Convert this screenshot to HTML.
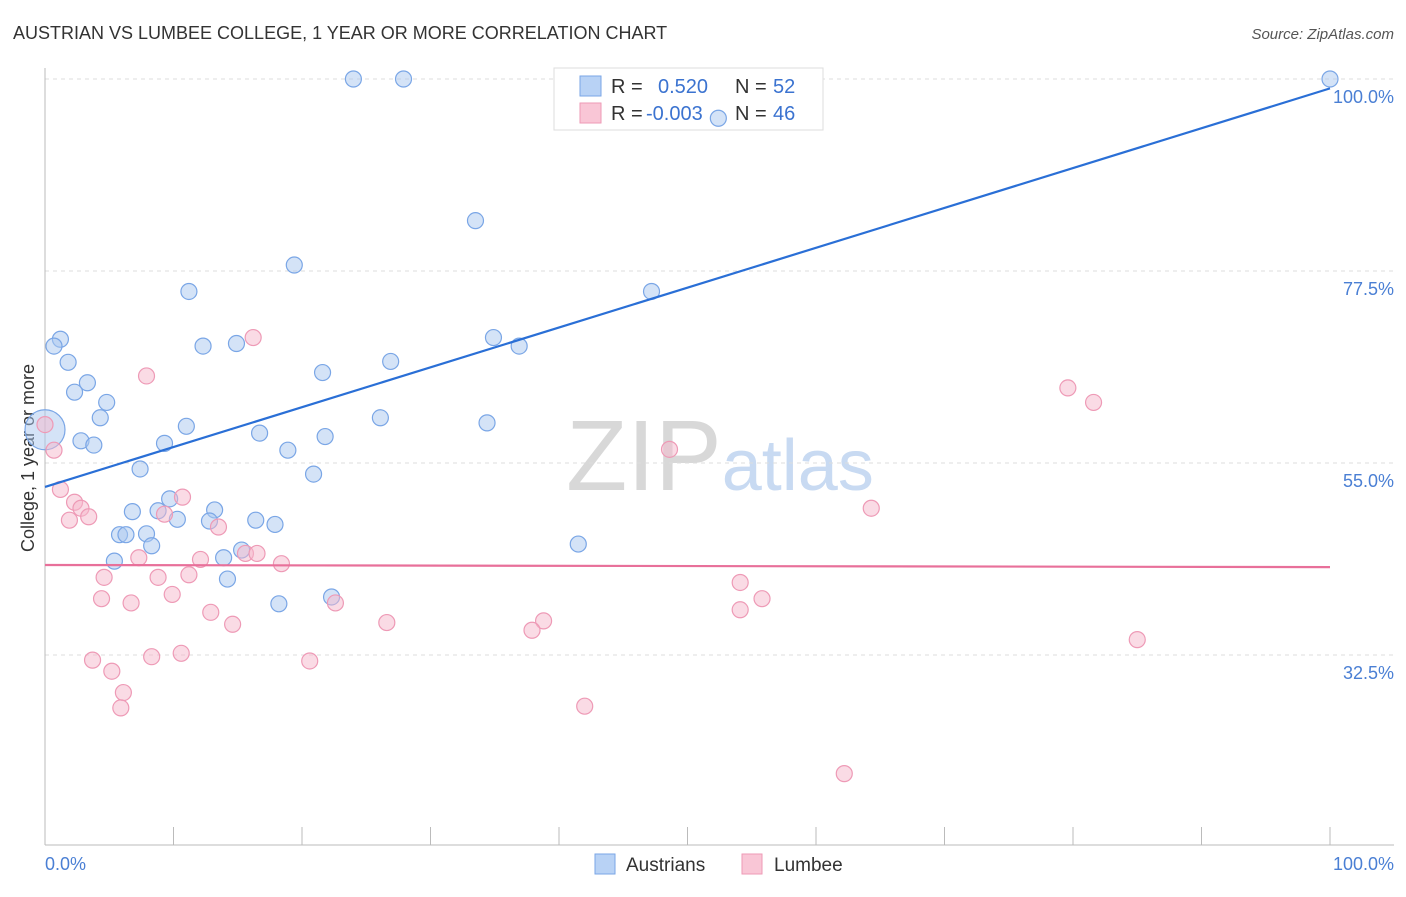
<!DOCTYPE html>
<html><head><meta charset="utf-8"><style>
body{margin:0;background:#fff;font-family:"Liberation Sans",sans-serif;}
svg text{font-family:"Liberation Sans",sans-serif;}
</style></head><body>
<svg id="chart" width="1406" height="892" xmlns="http://www.w3.org/2000/svg">
<text x="13" y="39" font-size="18" fill="#333">AUSTRIAN VS LUMBEE COLLEGE, 1 YEAR OR MORE CORRELATION CHART</text>
<text x="1394" y="39" font-size="15" fill="#555" text-anchor="end" font-style="italic">Source: ZipAtlas.com</text>
<text x="720" y="490" font-size="100" text-anchor="middle" fill="#ddd" font-family="Liberation Serif"><tspan fill="#d8d8d8">ZIP</tspan><tspan fill="#c8daf2" font-family="Liberation Sans" font-size="72">atlas</tspan></text>
<g id="grid"></g>
<g id="axes"></g>
<text transform="translate(34,458) rotate(-90)" font-size="18" fill="#333" text-anchor="middle">College, 1 year or more</text>
<text x="45" y="870" font-size="18" fill="#4a7fd4">0.0%</text>
<text x="1394" y="870" font-size="18" fill="#4a7fd4" text-anchor="end">100.0%</text>
<g>
<rect x="554" y="68" width="269" height="62" fill="#fff" stroke="#ddd"/>
<rect x="580" y="76" width="21" height="20" fill="#b8d2f5" stroke="#7aa6e6"/>
<rect x="580" y="103" width="21" height="20" fill="#f9c6d6" stroke="#ee9ab6"/>
<text x="611" y="93" font-size="20" fill="#333">R =</text>
<text x="658" y="93" font-size="20" fill="#3b73d0">0.520</text>
<text x="735" y="93" font-size="20" fill="#333">N =</text>
<text x="773" y="93" font-size="20" fill="#3b73d0">52</text>
<text x="611" y="120" font-size="20" fill="#333">R =</text>
<text x="646" y="120" font-size="20" fill="#3b73d0">-0.003</text>
<text x="735" y="120" font-size="20" fill="#333">N =</text>
<text x="773" y="120" font-size="20" fill="#3b73d0">46</text>
</g>
<g>
<rect x="595" y="854" width="20" height="20" fill="#b8d2f5" stroke="#7aa6e6"/>
<text x="626" y="871" font-size="19" fill="#333">Austrians</text>
<rect x="742" y="854" width="20" height="20" fill="#f9c6d6" stroke="#ee9ab6"/>
<text x="774" y="871" font-size="19" fill="#333">Lumbee</text>
</g>
<g id="pts"></g>
<g id="lines"></g>
</svg>
<script>
const yTicks=[32.5,55.0,77.5,100.0];
const xTickVals=[0,10,20,30,40,50,60,70,80,90,100];
const blueX=[24.0,27.9,100,52.4,33.5,19.4,11.2,47.2,1.2,0.7,12.3,14.9,34.9,36.9,1.8,26.9,21.6,3.3,2.3,4.8,4.3,26.1,34.4,11.0,0,2.8,3.8,9.3,16.7,21.8,18.9,7.4,20.9,9.7,13.2,6.8,8.8,10.3,12.8,16.4,17.9,5.8,6.3,7.9,8.3,15.3,13.9,5.4,41.5,14.2,18.2,22.3];
const blueY=[100,100,100,95.4,83.4,78.2,75.1,75.1,69.5,68.7,68.7,69.0,69.7,68.7,66.8,66.9,65.6,64.4,63.3,62.1,60.3,60.3,59.7,59.3,58.9,57.6,57.1,57.3,58.5,58.1,56.5,54.3,53.7,50.8,49.5,49.3,49.4,48.4,48.2,48.3,47.8,46.6,46.6,46.7,45.3,44.8,43.9,43.5,45.5,41.4,38.5,39.3];
const pinkX=[0,0.7,16.2,7.9,79.6,81.6,48.6,1.2,2.3,10.7,2.8,3.4,1.9,9.3,13.5,64.3,7.3,12.1,15.6,16.5,18.4,4.6,8.8,11.2,54.1,4.4,6.7,9.9,55.8,22.6,12.9,54.1,14.6,26.6,38.8,37.9,85.0,3.7,8.3,10.6,20.6,5.2,6.1,5.9,42.0,62.2];
const pinkY=[59.5,56.5,69.7,65.2,63.8,62.1,56.6,51.9,50.4,51.0,49.7,48.7,48.3,49.0,47.5,49.7,43.9,43.7,44.4,44.4,43.2,41.6,41.6,41.9,41.0,39.1,38.6,39.6,39.1,38.6,37.5,37.8,36.1,36.3,36.5,35.4,34.3,31.9,32.3,32.7,31.8,30.6,28.1,26.3,26.5,18.6];
const blueLine=[52.2,98.9];
const pinkLine=[43.05,42.8];
const NS='http://www.w3.org/2000/svg';
const X=v=>45+v/100*1285;
const Y=v=>79+(100-v)/22.5*192;
function mk(p,t,a){const e=document.createElementNS(NS,t);for(const k in a)e.setAttribute(k,a[k]);p.appendChild(e);return e;}
const grid=document.getElementById('grid'),axes=document.getElementById('axes'),pts=document.getElementById('pts'),lines=document.getElementById('lines');
yTicks.forEach(v=>{
 const l=mk(grid,'line',{x1:45,x2:1394,y1:Y(v),y2:Y(v),stroke:'#ddd','stroke-dasharray':'4,4'});
 
 
 const t=mk(grid,'text',{x:1394,y:Y(v)+24,'font-size':18,fill:'#4a7fd4','text-anchor':'end'});
 t.textContent=v.toFixed(1)+'%';
 
 
});
const ax=mk(axes,'line',{x1:45,x2:1394,y1:845,y2:845,stroke:'#bbb'});


const ay=mk(axes,'line',{x1:45,x2:45,y1:68,y2:845,stroke:'#bbb'});


xTickVals.forEach(v=>{
 const t=mk(axes,'line',{x1:X(v),x2:X(v),y1:827,y2:845,stroke:'#bbb'});
 
 
});
blueX.forEach((x,i)=>{
 const big=(x===0);
 const c=mk(pts,'circle',{cx:X(x),cy:Y(blueY[i]),r:big?20:8,fill:'rgba(169,200,240,0.5)',stroke:'#7aa6e6','stroke-width':1.2});
 
 
});
pinkX.forEach((x,i)=>{
 const c=mk(pts,'circle',{cx:X(x),cy:Y(pinkY[i]),r:8,fill:'rgba(245,184,204,0.5)',stroke:'#ee9ab6','stroke-width':1.2});
 
 
});
const bl=mk(lines,'line',{x1:X(0),x2:X(100),y1:Y(blueLine[0]),y2:Y(blueLine[1]),stroke:'#2a6fd6','stroke-width':2.2});


const pl=mk(lines,'line',{x1:X(0),x2:X(100),y1:Y(pinkLine[0]),y2:Y(pinkLine[1]),stroke:'#e8709a','stroke-width':2.2});


</script>
</body></html>
